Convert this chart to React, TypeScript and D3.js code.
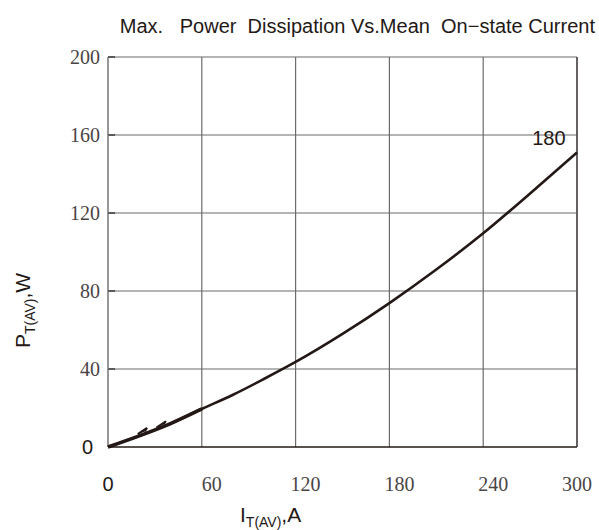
import * as React from 'react';
import * as d3 from 'd3';

// mean on-state current (A) vs max power dissipation (W)
const currentA = [0, 20, 40, 60, 80, 100, 120, 150, 180, 210, 240, 270, 300];
const powerW = [0, 5.7, 12, 19.5, 26.8, 35, 43.6, 58, 73.8, 91, 109.6, 130, 151];

// little kinks drawn on the low end of the printed curve
const kinkA = [[19, 25, 23.5], [31, 37, 35.5]];
const kinkW = [[6.6, 9.8, 8.0], [10.0, 13.2, 11.6]];

const xTicks = [0, 60, 120, 180, 240, 300];
const yTicks = [0, 40, 80, 120, 160, 200];
const curveLabel = '180';

const width = 599;
const height = 530;
const margin = { left: 108, right: 22, top: 57, bottom: 83 };

const serif = '"Liberation Serif", "DejaVu Serif", serif';
const sans = '"Liberation Sans", Arial, sans-serif';
const ink = '#231815';

const App = () => {
  const x = d3.scaleLinear()
    .domain([0, 300])
    .range([margin.left, width - margin.right]);
  const y = d3.scaleLinear()
    .domain([0, 200])
    .range([height - margin.bottom, margin.top]);

  const line = d3.line<[number, number]>()
    .x(d => x(d[0]))
    .y(d => y(d[1]))
    .curve(d3.curveMonotoneX);

  const pts: Array<[number, number]> = currentA.map((a, i) => [a, powerW[i]]);
  const lowPts = pts.filter(d => d[0] <= 60);
  const kinkLine = d3.line<[number, number]>()
    .x(d => x(d[0]))
    .y(d => y(d[1]));

  const x0 = x(0);
  const x1 = x(300);
  const y0 = y(0);
  const y1 = y(200);

  return (
    <svg width={width} height={height} style={{ display: 'block', position: 'absolute', left: 0, top: 0 }}>
      <rect width={width} height={height} fill="#fff" />

      {/* title */}
      <text x={595} y={33} textAnchor="end" fontFamily={sans} fontSize={20} fill="#231815">
        Max.{'\u00a0\u00a0'} Power{'\u00a0'} Dissipation Vs.Mean{'\u00a0'} On−state Current
      </text>

      {/* grid */}
      {xTicks.slice(1).map(t => (
        <line key={'gx' + t} x1={x(t)} x2={x(t)} y1={y1} y2={y0} stroke="#6d6a6a" strokeWidth={1.2} />
      ))}
      {yTicks.slice(1).map(t => (
        <line key={'gy' + t} x1={x0} x2={x1} y1={y(t)} y2={y(t)} stroke="#6d6a6a" strokeWidth={1.2} />
      ))}
      {yTicks.slice(1).map(t => (
        <line key={'ty' + t} x1={x0} x2={x0 + 7} y1={y(t)} y2={y(t)} stroke="#333" strokeWidth={1.4} />
      ))}

      {/* axes */}
      <line x1={x0} x2={x0} y1={y1} y2={y0} stroke="#6d6a6a" strokeWidth={1.4} />
      <line x1={x0} x2={x1} y1={y0} y2={y0} stroke={ink} strokeWidth={1.6} />
      <line x1={x1} x2={x1} y1={y1} y2={y0} stroke="#4a4545" strokeWidth={1.4} />

      {/* y tick labels */}
      {yTicks.map(t => (
        <text
          key={'ly' + t}
          x={t === 0 ? x0 - 15 : x0 - 8}
          y={y(t) + 7}
          textAnchor="end"
          fontFamily={t === 0 ? sans : serif}
          fontSize={20}
          fill={t === 0 ? '#231815' : '#4a4545'}
        >
          {t}
        </text>
      ))}

      {/* x tick labels */}
      {xTicks.map(t => (
        <text
          key={'lx' + t}
          x={x(t) + (t === 0 || t === 300 ? 0 : 10)}
          y={y0 + 44}
          textAnchor="middle"
          fontFamily={t === 0 ? sans : serif}
          fontSize={20}
          fill={t === 0 ? '#231815' : '#4a4545'}
        >
          {t}
        </text>
      ))}

      {/* axis titles */}
      <text x={240} y={522} fontFamily={sans} fontSize={21} fill={ink}>
        I<tspan fontSize={14} dy={5}>T(AV)</tspan><tspan dy={-5}>,A</tspan>
      </text>
      <text
        transform={`translate(30, ${y(70)}) rotate(-90)`}
        textAnchor="middle"
        fontFamily={sans}
        fontSize={21}
        fill={ink}
      >
        P<tspan fontSize={14} dy={5}>T(AV)</tspan><tspan dy={-5}>,W</tspan>
      </text>

      {/* curve */}
      <path d={line(pts) || ''} fill="none" stroke={ink} strokeWidth={2.6} />
      <path d={line(lowPts) || ''} fill="none" stroke={ink} strokeWidth={3.6} />
      {kinkA.map((row, k) => (
        <path
          key={'k' + k}
          d={kinkLine(row.map((a, i) => [a, kinkW[k][i]] as [number, number])) || ''}
          fill={ink}
          stroke={ink}
          strokeWidth={2}
        />
      ))}
      <text x={x(282)} y={y(160) + 10} textAnchor="middle" fontFamily={sans} fontSize={20} fill={ink}>
        {curveLabel}
      </text>
    </svg>
  );
};

export default App;
